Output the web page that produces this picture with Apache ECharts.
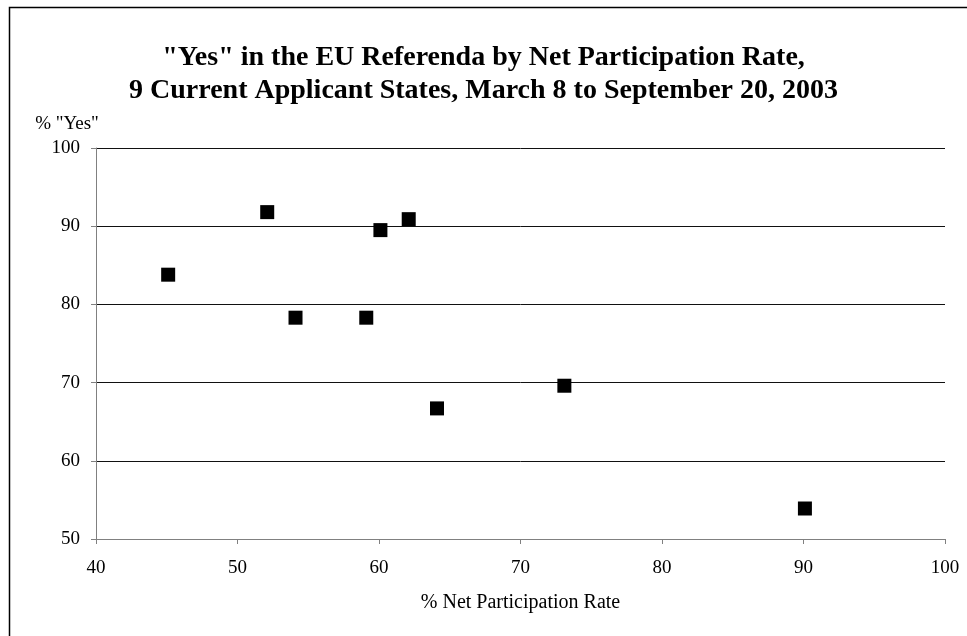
<!DOCTYPE html>
<html><head><meta charset="utf-8">
<script src="https://cdn.jsdelivr.net/npm/echarts@6/dist/echarts.min.js"></script>
<style>html,body{margin:0;padding:0;background:#fff}#c{width:967px;height:636px}</style>
</head><body><div id="c"></div>
<script>
const titleLines = ['"Yes" in the EU Referenda by Net Participation Rate,', '9 Current Applicant States, March 8 to September 20, 2003'];
const xName = '% Net Participation Rate';
const yName = '% "Yes"';
const participation = [45.1, 52.1, 54.1, 59.1, 60.1, 62.1, 64.1, 73.1, 90.1];
const yesShare = [83.8, 91.8, 78.3, 78.3, 89.5, 90.9, 66.7, 69.6, 53.9];
const xTicks = [40, 50, 60, 70, 80, 90, 100];
const yTicks = [50, 60, 70, 80, 90, 100];

const font = '"Liberation Serif", "DejaVu Serif", serif';
const chart = echarts.init(document.getElementById('c'), null, {renderer: 'canvas'});
chart.setOption({
  animation: false,
  backgroundColor: '#fff',
  title: {
    text: titleLines.join('\n'), left: 'center', top: 36,
    textStyle: {fontFamily: font, fontWeight: 'bold', fontSize: 28, lineHeight: 33, color: '#000'}
  },
  graphic: [{type: 'rect', left: 7, top: 5, shape: {width: 1000, height: 1000}, style: {fill: 'none', stroke: '#000', lineWidth: 1.5}, silent: true}],
  grid: {left: 96, right: 22, top: 148, bottom: 97},
  xAxis: {
    type: 'value', min: xTicks[0], max: xTicks[xTicks.length - 1], interval: 10,
    name: xName, nameLocation: 'middle', nameGap: 54,
    nameTextStyle: {fontFamily: font, fontSize: 20, color: '#000'},
    axisLine: {onZero: false, lineStyle: {color: '#808080', width: 1}},
    axisTick: {show: true, length: 5, lineStyle: {color: '#808080'}},
    axisLabel: {fontFamily: font, fontSize: 19, color: '#000', margin: 20},
    splitLine: {show: false}
  },
  yAxis: {
    type: 'value', min: yTicks[0], max: yTicks[yTicks.length - 1], interval: 10,
    name: yName, nameLocation: 'end', nameGap: 14,
    nameTextStyle: {fontFamily: font, fontSize: 19, color: '#000', align: 'center', padding: [0, 0, 0, -58]},
    axisLine: {show: true, lineStyle: {color: '#808080', width: 1}},
    axisTick: {show: true, length: 5, lineStyle: {color: '#808080'}},
    axisLabel: {fontFamily: font, fontSize: 19, color: '#000', margin: 16},
    splitLine: {show: true, lineStyle: {color: '#111', width: 1}}
  },
  series: [{
    type: 'scatter', symbol: 'rect', symbolSize: 14,
    itemStyle: {color: '#000', opacity: 1},
    data: participation.map((x, i) => [x, yesShare[i]])
  }]
});
</script></body></html>
